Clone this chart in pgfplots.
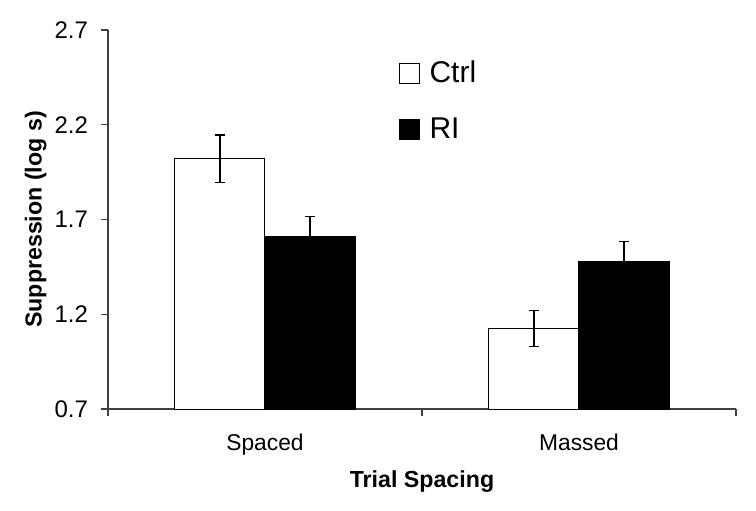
\documentclass[border=0pt]{standalone}
\usepackage{fontspec}
\setmainfont{Liberation Sans}
\usepackage{pgfplots}
\pgfplotsset{compat=1.18}
\definecolor{axisgray}{HTML}{404040}
\begin{document}
\begin{tikzpicture}
\useasboundingbox (-54pt,-50.5pt) rectangle (324pt,204.5pt);
\begin{axis}[
  at={(0,0)}, anchor=south west,
  scale only axis, width=314pt, height=189.5pt,
  xmin=-0.5, xmax=1.5, ymin=0.7, ymax=2.7,
  axis x line*=bottom, axis y line*=left,
  axis line style={-, axisgray, line width=0.6pt},
  ybar=0pt, bar width=0.287,
  ytick={0.7,1.2,1.7,2.2,2.7},
  yticklabel style={/pgf/number format/fixed, /pgf/number format/precision=1, /pgf/number format/fixed zerofill, xshift=-3pt, font=\fontsize{12}{14}\selectfont},
  /pgf/number format/assume math mode=true,
  xtick={-0.5,0.5,1.5}, xticklabels={},
  extra x ticks={0,1}, extra x tick labels={Spaced,Massed},
  extra x tick style={major tick length=0pt, xticklabel style={yshift=-9pt}},
  tick align=outside, major tick length=3.5pt,
  tick style={axisgray, line width=0.6pt},
  xticklabel style={font=\fontsize{11.4}{13}\selectfont},
  xlabel={Trial Spacing}, ylabel={Suppression (log s)},
  label style={font=\fontsize{11.6}{13}\selectfont\bfseries},
  xlabel style={at={(axis description cs:0.5,0)}, anchor=center, yshift=-36.5pt},
  ylabel style={at={(axis description cs:-0.115,0.5)}, anchor=center},
  legend style={draw=none, fill=none, at={(rel axis cs:0.462,0.93)}, anchor=north west, font=\fontsize{15}{17}\selectfont, row sep=12pt, inner sep=0pt,
    /tikz/every odd column/.append style={column sep=3pt}},
  legend cell align=left,
  legend image code/.code={\draw[#1, line width=0.5pt] (0pt,-5pt) rectangle (10pt,5pt);},
]
\addplot[draw=black, fill=white, line width=0.5pt,
  error bars/.cd, y dir=both, y explicit,
  error bar style={black, line width=0.6pt},
  error mark options={black, mark size=2.5pt, line width=0.6pt, rotate=90}]
  coordinates {(0,2.02) +- (0,0.126) (1,1.125) +- (0,0.094)};
\addlegendentry{Ctrl}
\addplot[draw=black, fill=black, line width=0.5pt,
  error bars/.cd, y dir=both, y explicit,
  error bar style={black, line width=0.6pt},
  error mark options={black, mark size=2.5pt, line width=0.6pt, rotate=90}]
  coordinates {(0,1.61) +- (0,0.104) (1,1.48) +- (0,0.105)};
\addlegendentry{RI}
\end{axis}
\end{tikzpicture}
\end{document}
